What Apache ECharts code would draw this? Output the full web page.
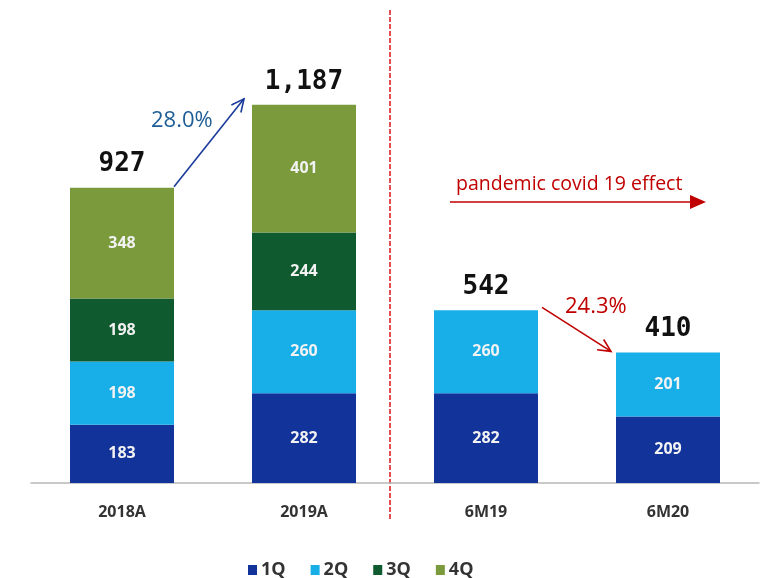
<!DOCTYPE html>
<html>
<head>
<meta charset="utf-8">
<style>
  html, body { margin: 0; padding: 0; background: #fff; }
  #main { width: 761px; height: 578px; }
</style>
<script src="https://cdn.jsdelivr.net/npm/echarts@6/dist/echarts.min.js"></script>
</head>
<body>
<div id="main"></div>
<script>
// data
const categories = ['2018A', '2019A', '6M19', '6M20']
const q1 = [183, 282, 282, 209]
const q2 = [198, 260, 260, 201]
const q3 = [198, 244, null, null]
const q4 = [348, 401, null, null]
const totals = [927, 1187, 542, 410]
const totalText = ['927', '1,187', '542', '410']

const colors = ['#12339a', '#18aee8', '#0f5a2e', '#7a9a3c']

let myChart = echarts.init(document.getElementById('main'))

const innerLabel = {
  show: true,
  position: 'inside',
  color: '#f2f2f2',
  fontSize: 16,
  fontWeight: 'bold',
  fontFamily: 'Open Sans'
}

function qSeries(name, data, i) {
  return {
    name: name,
    type: 'bar',
    stack: 'all',
    data: data,
    barWidth: 104,
    itemStyle: { color: colors[i] },
    label: innerLabel
  }
}

myChart.setOption({
  animation: false,
  grid: { left: 31, right: 2, top: 37, bottom: 95 },
  legend: {
    data: ['1Q', '2Q', '3Q', '4Q'],
    top: 556,
    left: 243,
    itemWidth: 9,
    itemHeight: 10,
    itemGap: 25,
    icon: 'rect',
    textStyle: { color: '#333', fontSize: 18, fontWeight: 'bold', fontFamily: 'Open Sans', padding: [0, 0, 0, -1] }
  },
  xAxis: {
    type: 'category',
    data: categories,
    axisTick: { show: false },
    axisLine: { lineStyle: { color: '#b8b8b8', width: 1.5 } },
    axisLabel: { color: '#333', fontSize: 16, fontWeight: 'bold', fontFamily: 'Open Sans', margin: 21 }
  },
  yAxis: {
    type: 'value',
    min: 0,
    max: 1400,
    show: false,
    splitLine: { show: false }
  },
  series: [
    qSeries('1Q', q1, 0),
    qSeries('2Q', q2, 1),
    qSeries('3Q', q3, 2),
    qSeries('4Q', q4, 3),
    {
      // zero-height bar on top of each stack to carry the total
      name: 'total',
      type: 'bar',
      stack: 'all',
      data: totals.map(() => 0),
      barWidth: 104,
      itemStyle: { color: 'transparent' },
      label: {
        show: true,
        position: 'top',
        distance: 10,
        color: '#111',
        fontSize: 26,
        fontWeight: 'bold',
        fontFamily: 'DejaVu Sans Mono',
        formatter: p => totalText[p.dataIndex]
      }
    }
  ]
})

// annotations placed from the axis scales
const px = (i, v) => myChart.convertToPixel({ seriesIndex: 0 }, [i, v])
const half = 52
const p18 = px(0, totals[0]), p19 = px(1, totals[1])
const p6a = px(2, totals[2]), p6b = px(3, totals[3])
const base = px(0, 0)
const sep = Math.round((px(1, 0)[0] + px(2, 0)[0]) / 2 - 5)

function arrow(x1, y1, x2, y2, color) {
  const a = Math.atan2(y2 - y1, x2 - x1)
  const l = 14
  return [
    { type: 'line', shape: { x1: x1, y1: y1, x2: x2, y2: y2 }, style: { stroke: color, lineWidth: 1.6 } },
    { type: 'polyline', shape: { points: [
      [x2 - l * Math.cos(a - 0.45), y2 - l * Math.sin(a - 0.45)],
      [x2, y2],
      [x2 - l * Math.cos(a + 0.45), y2 - l * Math.sin(a + 0.45)]
    ] }, style: { stroke: color, lineWidth: 1.6, fill: null } }
  ]
}

myChart.setOption({
  graphic: [
    { type: 'line', shape: { x1: sep, y1: 10, x2: sep, y2: base[1] + 38 },
      style: { stroke: '#dd1515', lineWidth: 1.5, lineDash: [5, 2] } },
    ...arrow(p18[0] + half, p18[1] - 1, p19[0] - 60, p19[1] - 6, '#1a3a9a'),
    { type: 'text', x: 151, y: 110, style: { text: '28.0%', fill: '#1f5d96', font: '22px "Open Sans"' } },
    ...arrow(p6a[0] + half + 4, p6a[1] - 3, p6b[0] - 57, p6b[1] - 1, '#c00000'),
    { type: 'text', x: 565, y: 296, style: { text: '24.3%', fill: '#c00000', font: '22px "Open Sans"' } },
    { type: 'text', x: 456, y: 174, style: { text: 'pandemic covid 19 effect', fill: '#c00000', font: '19.5px "Open Sans"' } },
    { type: 'line', shape: { x1: 450, y1: 202, x2: 692, y2: 202 }, style: { stroke: '#c00000', lineWidth: 1.6 } },
    { type: 'polygon', shape: { points: [[690, 195], [706, 202], [690, 209]] }, style: { fill: '#c00000' } }
  ]
})

window.onresize = function () {
  myChart.resize()
}
</script>
</body>
</html>
